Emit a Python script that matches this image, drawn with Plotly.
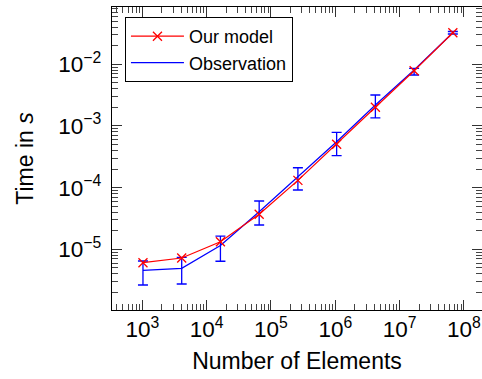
import plotly.graph_objects as go

# Data
elements = [1024, 4096, 16384, 65536, 262144, 1048576, 4194304, 16777216, 67108864]
model_time = [6.07e-6, 7.23e-6, 1.33e-5, 3.70e-5, 1.31e-4, 5.04e-4, 2.01e-3, 7.87e-3, 3.25e-2]
obs_time = [4.57e-6, 4.92e-6, 1.15e-5, 4.07e-5, 1.50e-4, 5.56e-4, 2.19e-3, 8.09e-3, 3.25e-2]
obs_upper = [6.46e-6, 7.41e-6, 1.64e-5, 6.07e-5, 2.10e-4, 7.89e-4, 3.18e-3, 8.61e-3, 3.40e-2]
obs_lower = [2.64e-6, 2.74e-6, 6.40e-6, 2.48e-5, 9.16e-5, 3.30e-4, 1.35e-3, 6.70e-3, 3.10e-2]

err_plus = [u - v for u, v in zip(obs_upper, obs_time)]
err_minus = [v - l for v, l in zip(obs_time, obs_lower)]

FONT = "Liberation Sans, Arial, Helvetica, sans-serif"

fig = go.Figure()
fig.add_trace(go.Scatter(
    x=elements, y=obs_time, mode="lines", name="Observation",
    line=dict(color="blue", width=1.2),
    error_y=dict(type="data", symmetric=False, array=err_plus, arrayminus=err_minus,
                 color="blue", thickness=1.3, width=5),
    legendrank=2,
))
fig.add_trace(go.Scatter(
    x=elements, y=model_time, mode="lines+markers", name="Our model",
    line=dict(color="red", width=1.2),
    marker=dict(symbol="x-thin", size=9, line=dict(color="red", width=1.3), color="red"),
    legendrank=1,
))

axis_common = dict(
    type="log", showgrid=False, zeroline=False,
    showline=True, linecolor="black", linewidth=1.2, mirror="ticks",
    ticks="inside", ticklen=10, tickwidth=1, tickcolor="#333",
    minor=dict(ticks="inside", ticklen=6, tickwidth=1, tickcolor="#444", showgrid=False),
    exponentformat="power", dtick=1,
    tickfont=dict(family=FONT, size=18, color="black"),
)

fig.update_layout(
    width=482, height=379,
    margin=dict(l=112, r=0, t=7, b=69),
    paper_bgcolor="white", plot_bgcolor="white",
    font=dict(family=FONT, size=18, color="black"),
    showlegend=True,
    legend=dict(x=0.035, y=0.967, xanchor="left", yanchor="top",
                bordercolor="black", borderwidth=1, bgcolor="white",
                font=dict(family=FONT, size=18, color="black"),
                itemwidth=53),
    xaxis=dict(axis_common, range=[2.529, 8.28],
               title=dict(text="Number of Elements", font=dict(family=FONT, size=23), standoff=11)),
    yaxis=dict(axis_common, range=[-5.984, -1.071],
               title=dict(text="Time in <i>s</i>", font=dict(family=FONT, size=23), standoff=18),
               ticklabelstandoff=6),
)

fig.write_html("out.html")
